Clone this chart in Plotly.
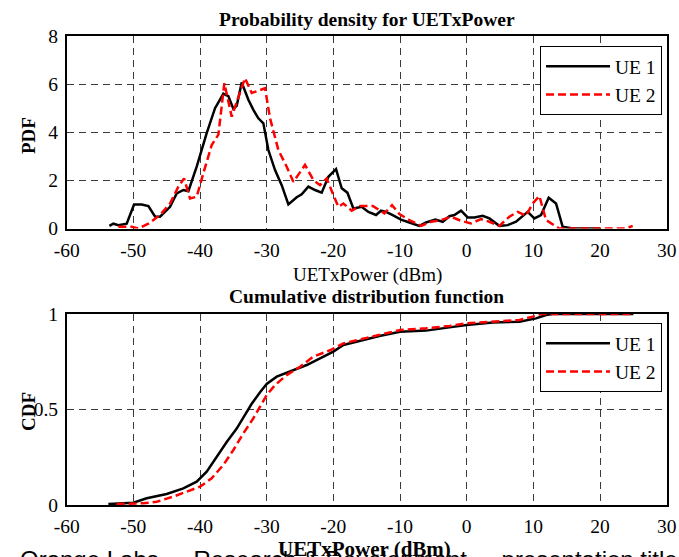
import plotly.graph_objects as go

# ---- data ----
pdf_ue1_x = [-53.6, -53, -52.25, -51, -49.9, -48.75, -47.75, -46.75, -46, -44.5, -43.5, -42.5, -41.75,
             -40.5, -39, -37.75, -36.5, -35.75, -35, -34.5, -33.75, -32.75, -32, -31.25, -30.5, -29.75,
             -28.75, -27.75, -26.75, -25.5, -24.75, -23.75, -22.75, -21.75, -20.75, -19.6, -18.75, -17.9,
             -17, -15.75, -14.75, -13.6, -12.85, -12.1, -11.1, -9.85, -8.6, -7.1, -6.1, -4.7, -3.6, -2.6,
             -1.85, -0.85, 0.15, 1.15, 2.4, 3.4, 4.9, 6.15, 7.4, 9.15, 10.15, 11.15, 12.3, 13.4, 14.4,
             15.9, 20]
pdf_ue1_y = [0.11, 0.2, 0.14, 0.2, 1.0, 1.0, 0.93, 0.5, 0.49, 0.9, 1.46, 1.6, 1.55, 2.57, 3.96, 5.0,
             5.6, 5.5, 4.97, 5.1, 6.07, 5.35, 4.93, 4.58, 4.37, 3.26, 2.43, 1.8, 1.0, 1.3, 1.42, 1.74,
             1.6, 1.49, 2.15, 2.47, 1.67, 1.49, 0.83, 0.9, 0.69, 0.56, 0.74, 0.69, 0.56, 0.37, 0.25,
             0.11, 0.25, 0.37, 0.28, 0.51, 0.56, 0.74, 0.46, 0.46, 0.53, 0.42, 0.11, 0.14, 0.28, 0.69,
             0.42, 0.56, 1.28, 1.04, 0.07, 0, 0]

pdf_ue2_x = [-52.25, -50.25, -49.25, -47.75, -46, -44.5, -43.25, -42.4, -41.5, -40.5, -39.5, -38.25,
             -37.25, -36.35, -35.25, -34.25, -33.25, -32.25, -30.25, -29.5, -28.25, -27, -26, -24.25,
             -23, -22, -21, -20, -19.25, -18.5, -17.25, -16, -14.1, -12.35, -11.2, -10.1, -8.6, -6.85,
             -5.35, -3.85, -2.35, -0.85, 0.65, 2.15, 3.4, 4.9, 6.4, 7.65, 8.9, 9.9, 10.9, 11.9, 13.9,
             23.9, 24.9]
pdf_ue2_y = [0.07, 0.07, 0, 0.2, 0.56, 1.04, 1.74, 2.08, 1.25, 1.32, 2.3, 3.47, 3.9, 6.04, 4.65, 5.49,
             6.25, 5.63, 5.83, 4.58, 3.26, 2.57, 1.94, 2.64, 2.01, 1.8, 2.08, 1.39, 0.9, 1.04, 0.74,
             0.94, 0.94, 0.63, 0.97, 0.6, 0.35, 0.11, 0.28, 0.35, 0.49, 0.32, 0.21, 0.39, 0.28, 0.11,
             0.49, 0.69, 0.53, 1.04, 1.35, 0.35, 0, 0, 0.11]

cdf_ue1_x = [-53.75, -50, -48, -45, -42.5, -40.5, -39, -37.5, -36, -34.5, -33.25, -32.25, -31, -30,
             -28.5, -26.5, -24, -22, -20, -18.5, -16, -13.1, -10, -6.1, -2.6, 0, 3.9, 7.9, 10.4, 11.9,
             12.9, 25]
cdf_ue1_y = [0.005, 0.012, 0.035, 0.058, 0.087, 0.122, 0.175, 0.253, 0.33, 0.40, 0.47, 0.53, 0.59,
             0.634, 0.672, 0.70, 0.733, 0.768, 0.803, 0.838, 0.86, 0.885, 0.907, 0.913, 0.93, 0.942,
             0.955, 0.96, 0.977, 0.995, 1.0, 1.0]

cdf_ue2_x = [-52.5, -48.5, -46.5, -44, -42, -40, -38.25, -36.5, -35, -33.5, -32, -31, -30, -28.75,
             -27, -25, -23, -20.5, -18.5, -16, -13.1, -10, -6.1, -2.6, 0, 3.9, 7.9, 9.9, 11.15, 24.9]
cdf_ue2_y = [0.005, 0.009, 0.017, 0.044, 0.07, 0.096, 0.14, 0.21, 0.288, 0.375, 0.454, 0.515, 0.576,
             0.628, 0.68, 0.724, 0.777, 0.81, 0.846, 0.867, 0.89, 0.916, 0.925, 0.937, 0.951, 0.96,
             0.969, 0.986, 1.0, 1.0]

series_names = ["UE 1", "UE 2"]
x_ticks = [-60, -50, -40, -30, -20, -10, 0, 10, 20, 30]
x_ticktext = ["-60", "-50", "-40", "-30", "-20", "-10", "0", "10", "20", "30"]
pdf_ticks = [0, 2, 4, 6, 8]
cdf_ticks = [0, 0.5, 1]
cdf_ticktext = ["0", "0.5", "1"]

W, H = 679, 557
SERIF = "Liberation Serif"

def px_x(p):
    return p / W

def px_y(p):
    return 1 - p / H

fig = go.Figure()
fig.add_trace(go.Scatter(x=pdf_ue1_x, y=pdf_ue1_y, mode="lines", name=series_names[0],
                         line=dict(color="black", width=2.5), xaxis="x", yaxis="y", legend="legend"))
fig.add_trace(go.Scatter(x=pdf_ue2_x, y=pdf_ue2_y, mode="lines", name=series_names[1],
                         line=dict(color="#ff0000", width=2.5, dash="8px,4px"), xaxis="x", yaxis="y",
                         legend="legend"))
fig.add_trace(go.Scatter(x=cdf_ue1_x, y=cdf_ue1_y, mode="lines", name=series_names[0],
                         line=dict(color="black", width=2.5), xaxis="x2", yaxis="y2", legend="legend2"))
fig.add_trace(go.Scatter(x=cdf_ue2_x, y=cdf_ue2_y, mode="lines", name=series_names[1],
                         line=dict(color="#ff0000", width=2.5, dash="8px,4px"), xaxis="x2", yaxis="y2",
                         legend="legend2"))

xdom = [px_x(66.7), px_x(666.7)]
axis_common = dict(showline=True, linecolor="black", linewidth=1.5, mirror=True, automargin=False,
                   showgrid=True, gridcolor="#3a3a3a", gridwidth=1, griddash="7px,5px",
                   zeroline=False, ticks="", tickfont=dict(family=SERIF, size=19.5, color="black"))

leg_common = dict(xanchor="right", yanchor="top", bgcolor="white", bordercolor="black", borderwidth=1,
                  font=dict(family=SERIF, size=19.5, color="black"), itemwidth=64, tracegroupgap=0)

fig.update_layout(
    width=W, height=H, margin=dict(l=0, r=0, t=0, b=0),
    paper_bgcolor="white", plot_bgcolor="white",
    xaxis=dict(domain=xdom, range=[-60, 30], tickvals=x_ticks, ticktext=x_ticktext, anchor="y",
               ticklabelstandoff=3, **axis_common),
    yaxis=dict(domain=[px_y(228.5), px_y(36)], range=[0, 8], tickvals=pdf_ticks, anchor="x",
               ticklabelstandoff=3, **axis_common),
    xaxis2=dict(domain=xdom, range=[-60, 30], tickvals=x_ticks, ticktext=x_ticktext, anchor="y2",
                ticklabelstandoff=3, **axis_common),
    yaxis2=dict(domain=[px_y(505), px_y(314)], range=[0, 1], tickvals=cdf_ticks, ticktext=cdf_ticktext,
                anchor="x2", ticklabelstandoff=3, **axis_common),
    legend=dict(x=px_x(662), y=px_y(46), **leg_common),
    legend2=dict(x=px_x(662), y=px_y(323), **leg_common),
    showlegend=True,
)

def note(text, x, y, size, bold=False, angle=0, family=SERIF, xanchor="center"):
    fig.add_annotation(text=f"<b>{text}</b>" if bold else text, x=px_x(x), y=px_y(y),
                       xref="paper", yref="paper", showarrow=False, textangle=angle,
                       xanchor=xanchor, yanchor="middle",
                       font=dict(family=family, size=size, color="black"))

note("Orange Labs  -  Research &amp; Development  -  presentation title", 18, 559, 24,
     family="Liberation Sans", xanchor="left")
note("Probability density for UETxPower", 367, 19, 19.5, bold=True)
note("UETxPower (dBm)", 367, 275, 19, bold=False)
note("Cumulative distribution function", 366, 296, 19.5, bold=True)
note("UETxPower (dBm)", 364, 549, 21, bold=True)
note("PDF", 28, 136, 19, bold=True, angle=-90)
note("CDF", 28, 412, 19, bold=True, angle=-90)

fig.write_html("out.html")
